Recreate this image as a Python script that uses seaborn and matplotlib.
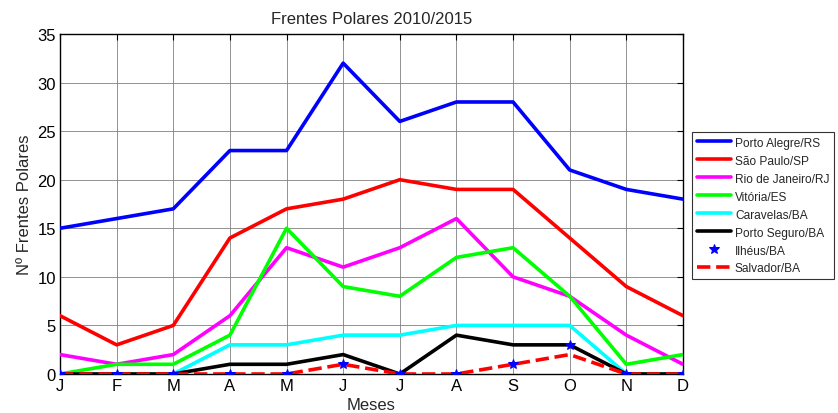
import matplotlib
matplotlib.use("Agg")
import matplotlib.pyplot as plt
import seaborn as sns
import pandas as pd
import numpy as np

months = ["J", "F", "M", "A", "M", "J", "J", "A", "S", "O", "N", "D"]
porto_alegre = [15, 16, 17, 23, 23, 32, 26, 28, 28, 21, 19, 18]
sao_paulo = [6, 3, 5, 14, 17, 18, 20, 19, 19, 14, 9, 6]
rio = [2, 1, 2, 6, 13, 11, 13, 16, 10, 8, 4, 1]
vitoria = [0, 1, 1, 4, 15, 9, 8, 12, 13, 8, 1, 2]
caravelas = [0, 0, 0, 3, 3, 4, 4, 5, 5, 5, 0, 0]
porto_seguro = [0, 0, 0, 1, 1, 2, 0, 4, 3, 3, 0, 0]
ilheus = [0, 0, 0, 0, 0, 1, 0, 0, 1, 3, 0, 0]
salvador = [0, 0, 0, 0, 0, 1, 0, 0, 1, 2, 0, 0]

series = [
    ("Porto Alegre/RS", porto_alegre, "#0000ff", "-", None),
    ("São Paulo/SP", sao_paulo, "#ff0000", "-", None),
    ("Rio de Janeiro/RJ", rio, "#ff00ff", "-", None),
    ("Vitória/ES", vitoria, "#00ff00", "-", None),
    ("Caravelas/BA", caravelas, "#00ffff", "-", None),
    ("Porto Seguro/BA", porto_seguro, "#000000", "-", None),
    ("Ilhéus/BA", ilheus, "#0000ff", "", "*"),
    ("Salvador/BA", salvador, "#ff0000", "--", None),
]

sns.set_style("white")
plt.rcParams["font.family"] = ["Liberation Sans", "DejaVu Sans"]

fig = plt.figure(figsize=(8.38, 4.14), dpi=100)
ax = fig.add_axes([0.0716, 0.0942, 0.7434, 0.8213])

x = np.arange(len(months))
for name, vals, color, ls, marker in series:
    df = pd.DataFrame({"x": x, "y": vals})
    if marker:
        sns.lineplot(data=df, x="x", y="y", ax=ax, color=color, linestyle="",
                     marker=marker, markersize=7, markeredgecolor=color,
                     label=name, zorder=5)
    else:
        sns.lineplot(data=df, x="x", y="y", ax=ax, color=color, linestyle=ls,
                     linewidth=2.6, label=name, zorder=3)

ax.set_xlim(0, 11)
ax.set_ylim(0, 35)
ax.set_xticks(x)
ax.set_xticklabels(months)
ax.set_yticks(range(0, 36, 5))
ax.tick_params(axis="both", direction="in", length=4, labelsize=12,
               top=True, right=True, pad=3, colors="black")
ax.grid(True, color="#808080", linewidth=0.6)
for s in ax.spines.values():
    s.set_color("black")
    s.set_linewidth(1.0)
ax.set_xlabel("Meses", fontsize=12, labelpad=3)
ax.set_ylabel("Nº Frentes Polares", fontsize=12, labelpad=4)
ax.set_title("Frentes Polares 2010/2015", fontsize=12, pad=8)

leg = ax.legend(loc="upper left", bbox_to_anchor=(0.8257, 0.679),
                bbox_transform=fig.transFigure, frameon=True, fancybox=False,
                edgecolor="black", fontsize=8.6, handlelength=2.9,
                handletextpad=0.3, borderpad=0.4, labelspacing=0.5,
                borderaxespad=0)
leg.get_frame().set_linewidth(0.8)

fig.savefig("out.png", dpi=100)
